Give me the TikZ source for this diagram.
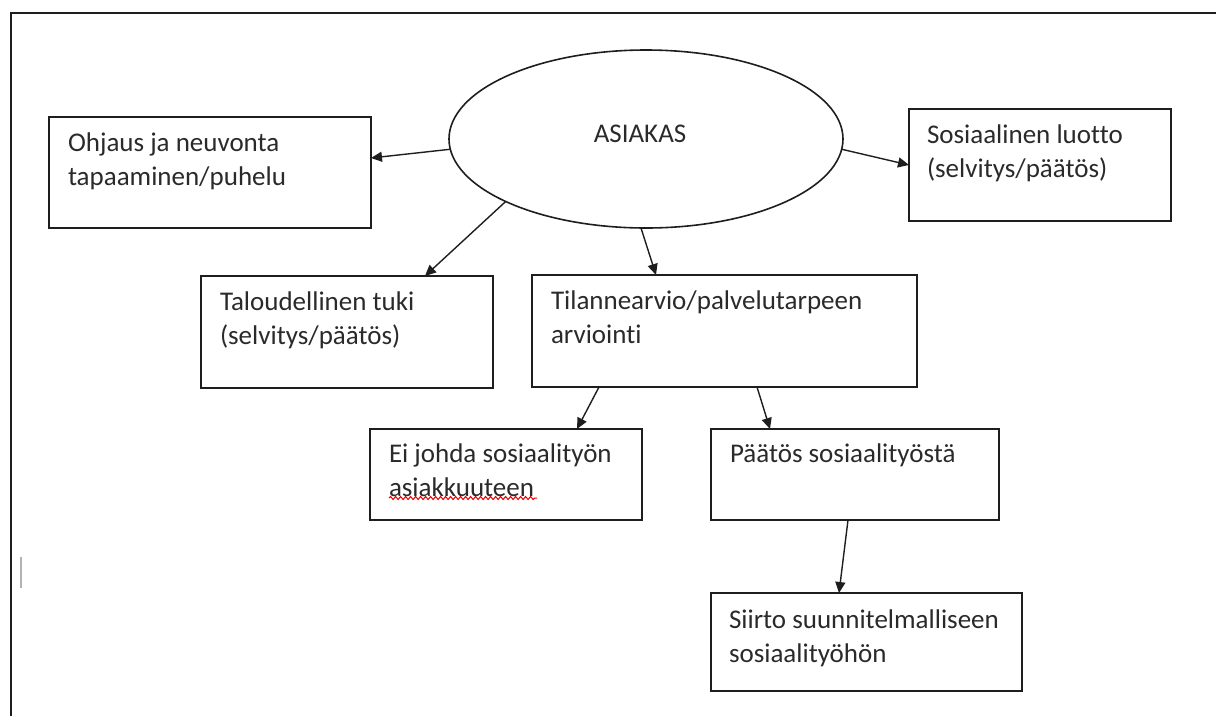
\documentclass[tikz,border=0pt]{standalone}
\usepackage{fontspec}
\setmainfont{Carlito}[Ligatures=NoCommon]
\usetikzlibrary{shapes.geometric,arrows.meta,calc,decorations.pathmorphing}
\definecolor{ink}{HTML}{1E1E1E}
\definecolor{txtc}{HTML}{2A2A2A}
\begin{document}
\begin{tikzpicture}[x=1pt,y=-1pt,
  box/.style={draw=ink, line width=1.6pt, rectangle, inner sep=0pt, outer sep=0pt},
  txt/.style={anchor=north west, align=left, inner sep=0pt, outer sep=0pt, text=txtc, font=\fontsize{27}{34}\selectfont},
  arr/.style={draw=ink, line width=1.4pt, -{Triangle[length=11pt,width=10pt]}}]
\useasboundingbox (0,0) rectangle (1216,716);
% frame
\draw[ink, line width=2pt] (11,716) -- (11,13) -- (1216,13);
% cursor
\draw[black!30, line width=2pt] (21,557) -- (21,588);
% ellipse
\node[draw=ink, line width=1.6pt, ellipse, minimum width=394pt, minimum height=178pt, inner sep=0pt, outer sep=0pt] (ell) at (646,139) {};
\node[font=\fontsize{27}{34}\selectfont, text=txtc, anchor=base, inner sep=0pt] (ellT) at (640,142) {ASIAKAS};
% boxes
\node[box, minimum width=322pt, minimum height=111pt] (ohj) at (210,172.5) {};
\node[box, minimum width=262pt, minimum height=112pt] (sos) at (1040,165) {};
\node[box, minimum width=292pt, minimum height=112pt] (tal) at (347,332) {};
\node[box, minimum width=385pt, minimum height=112pt] (til) at (724.5,331) {};
\node[box, minimum width=272pt, minimum height=91pt] (ei) at (506,474.5) {};
\node[box, minimum width=288pt, minimum height=91pt] (paa) at (855,474.5) {};
\node[box, minimum width=311pt, minimum height=98pt] (sii) at (866.5,642) {};
% texts
\node[txt] (ohjT) at ($(ohj.north west)+(19,10.2)$) {\strut Ohjaus ja neuvonta\\tapaaminen/puhelu};
\node[txt] (sosT) at ($(sos.north west)+(18,10.2)$) {\strut Sosiaalinen luotto\\(selvitys/päätös)};
\node[txt] (talT) at ($(tal.north west)+(19,10.2)$) {\strut Taloudellinen tuki\\(selvitys/päätös)};
\node[txt] (tilT) at ($(til.north west)+(19,10.2)$) {\strut Tilannearvio/palvelutarpeen\\arviointi};
\node[txt] (eiT) at ($(ei.north west)+(19,9.2)$) {\strut Ei johda sosiaalityön\\asiakkuuteen};
\node[txt] (paaT) at ($(paa.north west)+(19,9.2)$) {\strut Päätös sosiaalityöstä};
\node[txt] (siiT) at ($(sii.north west)+(18,11.2)$) {\strut Siirto suunnitelmalliseen\\sosiaalityöhön};
% red squiggle
\draw[red!90!black, line width=1pt, decorate, decoration={snake, amplitude=1.5pt, segment length=5pt}] (389,498) -- (537,498);
% arrows
\draw[arr] (ell.183) -- ([yshift=14.5pt]ohj.east);
\draw[arr] (ell.-3) -- (sos.west);
\draw[arr] (ell.204) -- ([xshift=78pt]tal.north);
\draw[arr] ([xshift=-5pt]ell.south) -- ([xshift=-68.5pt]til.north);
\draw[arr] ([xshift=-125.5pt]til.south) -- ([xshift=71pt]ei.north);
\draw[arr] ([xshift=32.5pt]til.south) -- ([xshift=-85pt]paa.north);
\draw[arr] ([xshift=-7pt]paa.south) -- ([xshift=-27.5pt]sii.north);
\end{tikzpicture}
\end{document}
